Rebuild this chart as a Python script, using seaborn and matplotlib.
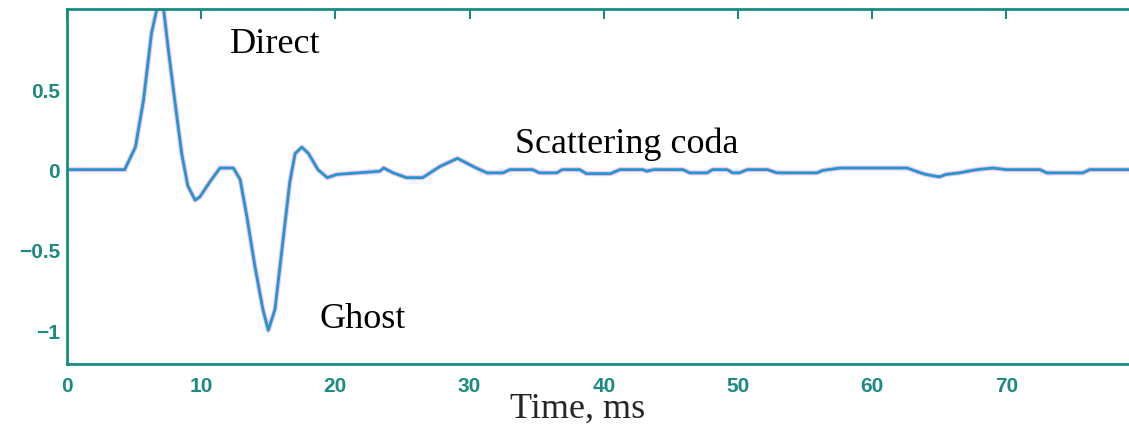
import matplotlib
matplotlib.use("Agg")
import matplotlib.pyplot as plt
import pandas as pd
import seaborn as sns

# waveform (time in ms, normalised amplitude)
time_ms = [0, 4.3, 5.1, 5.7, 6.3, 6.7, 7.2, 7.55, 8.05, 8.55, 9.0, 9.55,
           9.9, 10.7, 11.4, 12.4, 12.9, 13.4, 14.0, 14.6, 15.0, 15.5, 16.1,
           16.6, 17.0, 17.5, 18.0, 18.7, 19.4, 20.1, 23.3, 23.6, 24.3, 25.3,
           26.5, 27.8, 29.1, 30.5, 31.3, 32.5, 33.0, 34.7, 35.2, 36.5, 36.9,
           38.2, 38.7, 40.5, 41.2, 42.9, 43.2, 43.7, 45.9, 46.4, 47.7, 48.1,
           49.2, 49.6, 50.1, 50.7, 52.2, 52.9, 55.9, 56.3, 57.6, 62.6, 63.6,
           64.0, 65.0, 65.5, 66.5, 67.8, 69.0, 70.0, 72.5, 73.0, 75.7, 76.2,
           80.0]
amplitude = [0, 0, 0.14, 0.43, 0.85, 1.0, 1.0, 0.75, 0.42, 0.1, -0.1,
             -0.19, -0.17, -0.07, 0.01, 0.01, -0.06, -0.29, -0.6, -0.87,
             -1.0, -0.87, -0.44, -0.08, 0.1, 0.14, 0.1, 0.0, -0.05, -0.03,
             -0.01, 0.01, -0.02, -0.05, -0.05, 0.02, 0.07, 0.01, -0.02,
             -0.02, 0.0, 0.0, -0.02, -0.02, 0.0, 0.0, -0.025, -0.025, 0.0,
             0.0, -0.01, 0.0, 0.0, -0.02, -0.02, 0.0, 0.0, -0.02, -0.02, 0.0,
             0.0, -0.02, -0.02, -0.005, 0.01, 0.01, -0.02, -0.03, -0.045,
             -0.03, -0.02, 0.0, 0.01, 0.0, 0.0, -0.02, -0.02, 0.0, 0.0]

x_ticks = [0, 10, 20, 30, 40, 50, 60, 70, 80]
y_ticks = [-1, -0.5, 0, 0.5]
y_tick_labels = ["\u22121", "\u22120.5", "0", "0.5"]

labels = ["Direct", "Scattering coda", "Ghost"]
label_x = [12.15, 33.4, 18.85]
label_y = [0.73, 0.11, -0.98]


def main():
    sns.set_theme(style="white")
    teal = "#1b8a82"
    plt.rcParams["font.family"] = ["Liberation Sans", "DejaVu Sans"]

    df = pd.DataFrame({"time": time_ms, "amp": amplitude})

    fig = plt.figure(figsize=(11.29, 4.27), dpi=100)
    ax = fig.add_axes([0.0593, 0.1452, 0.951, 0.8314])

    # pinkish halo under the trace, as in the scanned figure
    sns.lineplot(data=df, x="time", y="amp", ax=ax, color="#f29ac8",
                 lw=3.6, alpha=0.6)
    sns.lineplot(data=df, x="time", y="amp", ax=ax, color="#1f97d4", lw=2.0)

    ax.set_xlim(0, 80)
    ax.set_ylim(-1.21, 1.0)
    ax.set_xticks(x_ticks)
    ax.set_yticks(y_ticks)
    ax.set_yticklabels(y_tick_labels)
    ax.set_xlabel("")
    ax.set_ylabel("")

    for side in ax.spines.values():
        side.set_color(teal)
        side.set_linewidth(2.0)
    ax.tick_params(axis="both", direction="in", length=7, width=1.5,
                   color=teal, labelcolor=teal, labelsize=15,
                   top=True, right=True)
    ax.tick_params(axis="x", pad=9)
    ax.tick_params(axis="y", pad=5)
    for lab in ax.get_xticklabels() + ax.get_yticklabels():
        lab.set_fontweight("bold")

    for txt, tx, ty in zip(labels, label_x, label_y):
        ax.text(tx, ty, txt, fontsize=26, family="Liberation Serif",
                color="black", ha="left", va="baseline")

    fig.text(510 / 1129, 9 / 427, "Time, ms", fontsize=26,
             family="Liberation Serif", ha="left", va="baseline")

    plt.savefig("out.png", dpi=100)
    plt.close()


if __name__ == "__main__":
    main()
